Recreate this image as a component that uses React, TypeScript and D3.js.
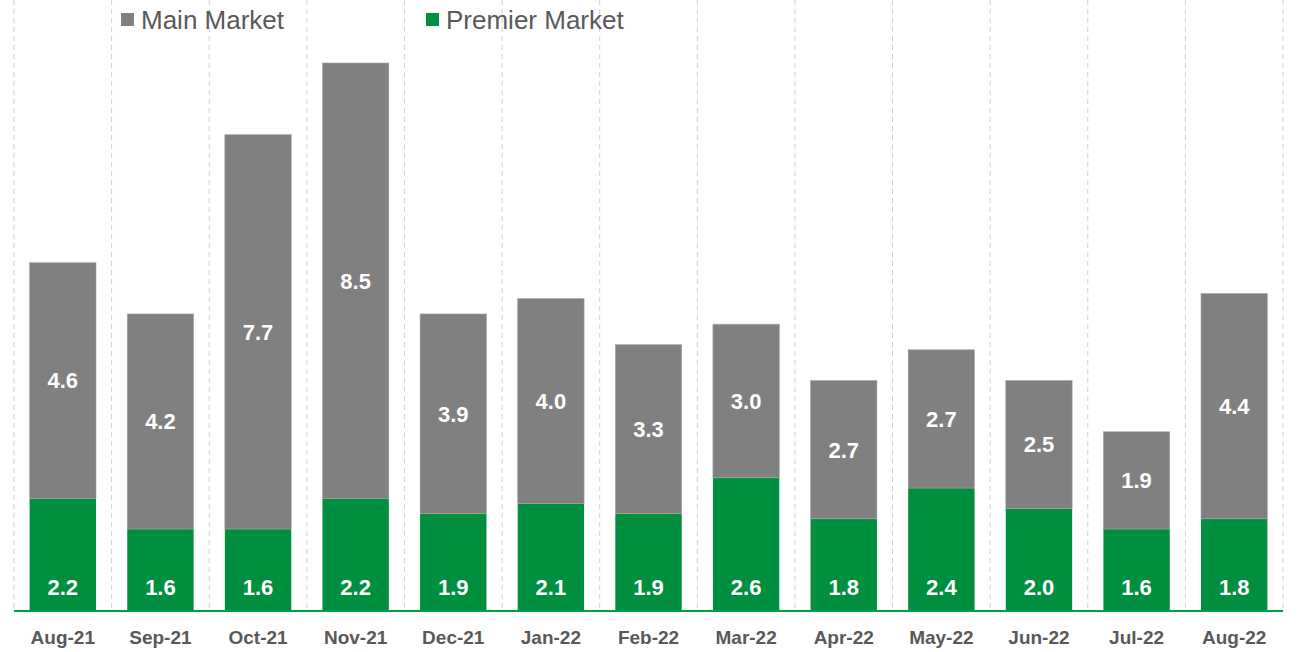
import { useEffect } from "react";
import * as d3 from "d3";

// data
const categories = [
  "Aug-21", "Sep-21", "Oct-21", "Nov-21", "Dec-21", "Jan-22", "Feb-22",
  "Mar-22", "Apr-22", "May-22", "Jun-22", "Jul-22", "Aug-22",
];
const premierMarket = [2.2, 1.6, 1.6, 2.2, 1.9, 2.1, 1.9, 2.6, 1.8, 2.4, 2.0, 1.6, 1.8];
const mainMarket = [4.6, 4.2, 7.7, 8.5, 3.9, 4.0, 3.3, 3.0, 2.7, 2.7, 2.5, 1.9, 4.4];

const W = 1297;
const H = 652;
const GREEN = "#008F3F";
const GRAY = "#808080";
const TEXT = "#595959";
const FONT = "Arial, 'Liberation Sans', sans-serif";

export default function App() {
  useEffect(() => {
    document.body.style.margin = "0";
  }, []);

  const left = 14;
  const right = 1283;
  const baseY = 611;

  const x = d3.scaleBand<string>().domain(categories).range([left, right]).padding(0);
  const y = d3.scaleLinear().domain([0, 11.93]).range([baseY, 0]);
  const bw = x.bandwidth() * 0.68;

  const gridX = categories.map((c) => x(c)!).concat([right]);

  return (
    <svg width={W} height={H} style={{ display: "block" }} fontFamily={FONT}>
      {/* dashed gridlines */}
      {gridX.map((gx, i) => (
        <line
          key={"g" + i}
          x1={gx}
          x2={gx}
          y1={0}
          y2={baseY}
          stroke="#D0D0D0"
          strokeWidth={1}
          strokeDasharray="5 4"
        />
      ))}

      {/* bars */}
      {categories.map((c, i) => {
        const cx = x(c)! + x.bandwidth() / 2;
        const p = premierMarket[i];
        const m = mainMarket[i];
        const yP = y(p);
        const yT = y(p + m);
        return (
          <g key={c}>
            <rect x={cx - bw / 2} y={yP} width={bw} height={baseY - yP} fill={GREEN} />
            <rect
              x={cx - bw / 2}
              y={yT}
              width={bw}
              height={yP - yT}
              fill={GRAY}
              stroke="#A6A6A6"
              strokeWidth={0.6}
            />
            <text
              x={cx}
              y={(yP + yT) / 2}
              dy="0.36em"
              textAnchor="middle"
              fill="#fff"
              fontWeight="bold"
              fontSize={22}
            >
              {m.toFixed(1)}
            </text>
            <text
              x={cx}
              y={595}
              textAnchor="middle"
              fill="#fff"
              fontWeight="bold"
              fontSize={22}
            >
              {p.toFixed(1)}
            </text>
            <text
              x={cx}
              y={644}
              textAnchor="middle"
              fill={TEXT}
              fontWeight="bold"
              fontSize={19}
            >
              {c}
            </text>
          </g>
        );
      })}

      {/* baseline */}
      <line x1={left} x2={right} y1={baseY} y2={baseY} stroke="#00A04A" strokeWidth={2} />

      {/* legend */}
      <rect x={121} y={13} width={13} height={13} fill={GRAY} />
      <text x={141} y={29} fill={TEXT} fontSize={26}>
        Main Market
      </text>
      <rect x={426} y={13} width={13} height={13} fill={GREEN} />
      <text x={446} y={29} fill={TEXT} fontSize={26}>
        Premier Market
      </text>
    </svg>
  );
}
